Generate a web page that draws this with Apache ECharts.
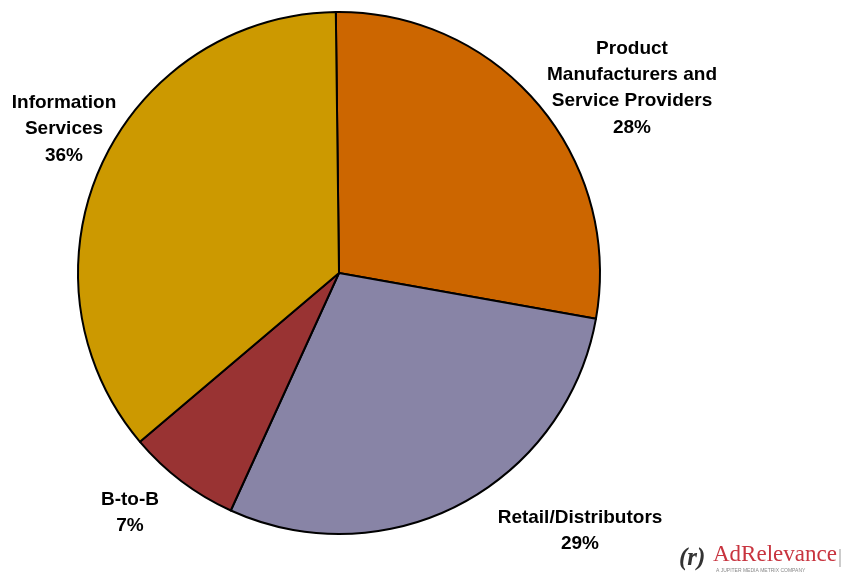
<!DOCTYPE html>
<html>
<head>
<meta charset="utf-8">
<script src="https://cdn.jsdelivr.net/npm/echarts@6/dist/echarts.min.js"></script>
<style>
  html, body { margin: 0; padding: 0; background: #fff; }
  #chart { width: 843px; height: 578px; }
</style>
</head>
<body>
<div id="chart"></div>
<script>
// Segment names and their shares (percent)
const categories = [
  'Product\nManufacturers and\nService Providers',
  'Retail/Distributors',
  'B-to-B',
  'Information\nServices'
];
const shares = [28, 29, 7, 36];
const colors = ['#CC6600', '#8884A6', '#993333', '#CC9900'];

// Label anchor points (centre of each label block), by slice
const labelSpots = [
  [632, 88],
  [580, 531],
  [130, 513],
  [64, 129]
];

const chart = echarts.init(document.getElementById('chart'), null, { renderer: 'canvas' });

chart.setOption({
  animation: false,
  backgroundColor: '#ffffff',
  series: [{
    type: 'pie',
    center: [339, 273],
    radius: [0, 261],
    startAngle: 90.7,
    clockwise: true,
    data: categories.map((name, i) => ({
      name: name,
      value: shares[i],
      itemStyle: { color: colors[i] }
    })),
    itemStyle: { borderColor: '#000', borderWidth: 2 },
    label: {
      show: true,
      position: 'outside',
      formatter: p => p.name + '\n' + p.value + '%',
      fontFamily: 'Liberation Sans, Arial, sans-serif',
      fontSize: 19,
      fontWeight: 'bold',
      lineHeight: 26.3,
      color: '#000',
      align: 'center',
      overflow: 'none'
    },
    labelLine: { show: false },
    labelLayout: function (params) {
      const p = labelSpots[params.dataIndex];
      return { x: p[0], y: p[1], align: 'center', verticalAlign: 'middle', width: 300 };
    },
    emphasis: { disabled: true }
  }],
  graphic: [
    {
      type: 'text',
      left: 679, top: 546,
      style: {
        text: '(r)',
        font: 'italic bold 25px "Liberation Serif", "DejaVu Serif", serif',
        fill: '#333'
      }
    },
    {
      type: 'text',
      left: 713, top: 543,
      style: {
        text: 'AdRelevance',
        font: '23px "Liberation Serif", "DejaVu Serif", serif',
        fill: '#C8343F'
      }
    },
    {
      type: 'text',
      left: 716, top: 568,
      style: {
        text: 'A JUPITER MEDIA METRIX COMPANY',
        font: '5px "Liberation Sans", sans-serif',
        fill: '#888'
      }
    },
    {
      type: 'line',
      shape: { x1: 840, y1: 549, x2: 840, y2: 567 },
      style: { stroke: '#999', lineWidth: 1 }
    }
  ]
});
</script>
</body>
</html>
